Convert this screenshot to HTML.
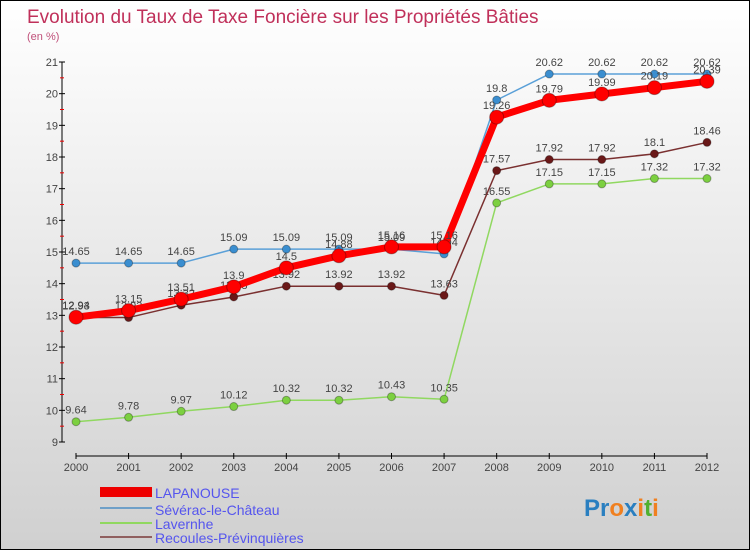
<!DOCTYPE html>
<html><head><meta charset="utf-8"><style>
body{margin:0}
#c{width:748px;height:548px;border:1px solid #000;background:linear-gradient(#fff,#d0d0d0);position:relative;font-family:"Liberation Sans",sans-serif;overflow:hidden}
</style></head><body>
<div id="c">
<svg id="s" width="748" height="548" style="position:absolute;left:0;top:0">
<text x="26" y="22" font-size="19" fill="#c0305a">Evolution du Taux de Taxe Foncière sur les Propriétés Bâties</text>
<text x="26" y="39" font-size="11" fill="#c0507a">(en %)</text>
<g id="ax"></g><g id="ser"></g>
<g>
<rect x="99" y="486" width="52" height="10" fill="#e00"/>
<text x="154" y="497" font-size="14" fill="#55e">LAPANOUSE</text>
<rect x="99" y="506" width="52" height="2" fill="#6fa0c8"/>
<text x="154" y="514" font-size="14" fill="#55e">Sévérac-le-Château</text>
<rect x="99" y="521" width="52" height="2" fill="#90d860"/>
<text x="154" y="528" font-size="14" fill="#55e">Lavernhe</text>
<rect x="99" y="535" width="52" height="2" fill="#906060"/>
<text x="154" y="542" font-size="14" fill="#55e">Recoules-Prévinquières</text>
</g>
<g font-size="24" font-weight="bold">
<text x="583" y="515"><tspan fill="#2a7fc0">Pr</tspan><tspan fill="#f08020">o</tspan><tspan fill="#2a7fc0">x</tspan><tspan fill="#f08020">i</tspan><tspan fill="#50b030">t</tspan><tspan fill="#f08020">i</tspan></text>
</g>
</svg>
</div>
<script>
const years=[2000,2001,2002,2003,2004,2005,2006,2007,2008,2009,2010,2011,2012];
const yTicks=[9,10,11,12,13,14,15,16,17,18,19,20,21];
const lapanouse=[12.94,13.15,13.51,13.9,14.5,14.88,15.16,15.16,19.26,19.79,19.99,20.19,20.39];
const severac=[14.65,14.65,14.65,15.09,15.09,15.09,15.09,14.94,19.8,20.62,20.62,20.62,20.62];
const lavernhe=[9.64,9.78,9.97,10.12,10.32,10.32,10.43,10.35,16.55,17.15,17.15,17.32,17.32];
const recoules=[12.93,12.93,13.32,13.58,13.92,13.92,13.92,13.63,17.57,17.92,17.92,18.1,18.46];
const NS='http://www.w3.org/2000/svg';
const X=i=>75+i*(631/12), Y=v=>441-(v-9)*(380/12);
function mk(t,a,p){const e=document.createElementNS(NS,t);for(const k in a)e.setAttribute(k,a[k]);p.appendChild(e);return e;}
const ax=document.getElementById('ax'),ser=document.getElementById('ser');
let e=mk('line',{x1:61,y1:Y(21),x2:61,y2:Y(9),stroke:'#000'},ax);

e=mk('line',{x1:75,y1:455,x2:706,y2:455,stroke:'#000'},ax);

yTicks.forEach(v=>{
 mk('line',{x1:58,x2:64,y1:Y(v),y2:Y(v),stroke:'#000'},ax);
 if(v<21)mk('line',{x1:59,x2:63,y1:Y(v+0.5),y2:Y(v+0.5),stroke:'#e00'},ax);
 const t=mk('text',{x:57,y:Y(v)+4,'font-size':11,fill:'#444','text-anchor':'end'},ax);t.textContent=v;
 
 
});
years.forEach((y,i)=>{
 mk('line',{x1:X(i),x2:X(i),y1:452,y2:458,stroke:'#000'},ax);
 const t=mk('text',{x:X(i),y:470,'font-size':11,fill:'#444','text-anchor':'middle'},ax);t.textContent=y;
 
 
});
function series(d,name,col,w,r,fill){
 const g=mk('g',{},ser);
 
 
 mk('polyline',{points:d.map((v,i)=>X(i)+','+Y(v)).join(' '),fill:'none',stroke:col,'stroke-width':w,'stroke-linejoin':'round'},g);
 d.forEach((v,i)=>{
  const c=mk('circle',{cx:X(i),cy:Y(v),r:r,fill:fill,stroke:'rgba(0,0,0,0.3)'},g);
  
  
  const t=mk('text',{x:X(i),y:Y(v)-8,'font-size':11,fill:'#444','text-anchor':'middle'},g);t.textContent=v;
  
  
 });
}
series(severac,'severac','#5aa0d8',1.5,4,'#3a8ed0');
series(lavernhe,'lavernhe','#90d860',1.5,4,'#7cd040');
series(recoules,'recoules','#7a3030',1.5,4,'#6a1818');
series(lapanouse,'lapanouse','#f00',7,7,'#f00');
</script>
</body></html>
